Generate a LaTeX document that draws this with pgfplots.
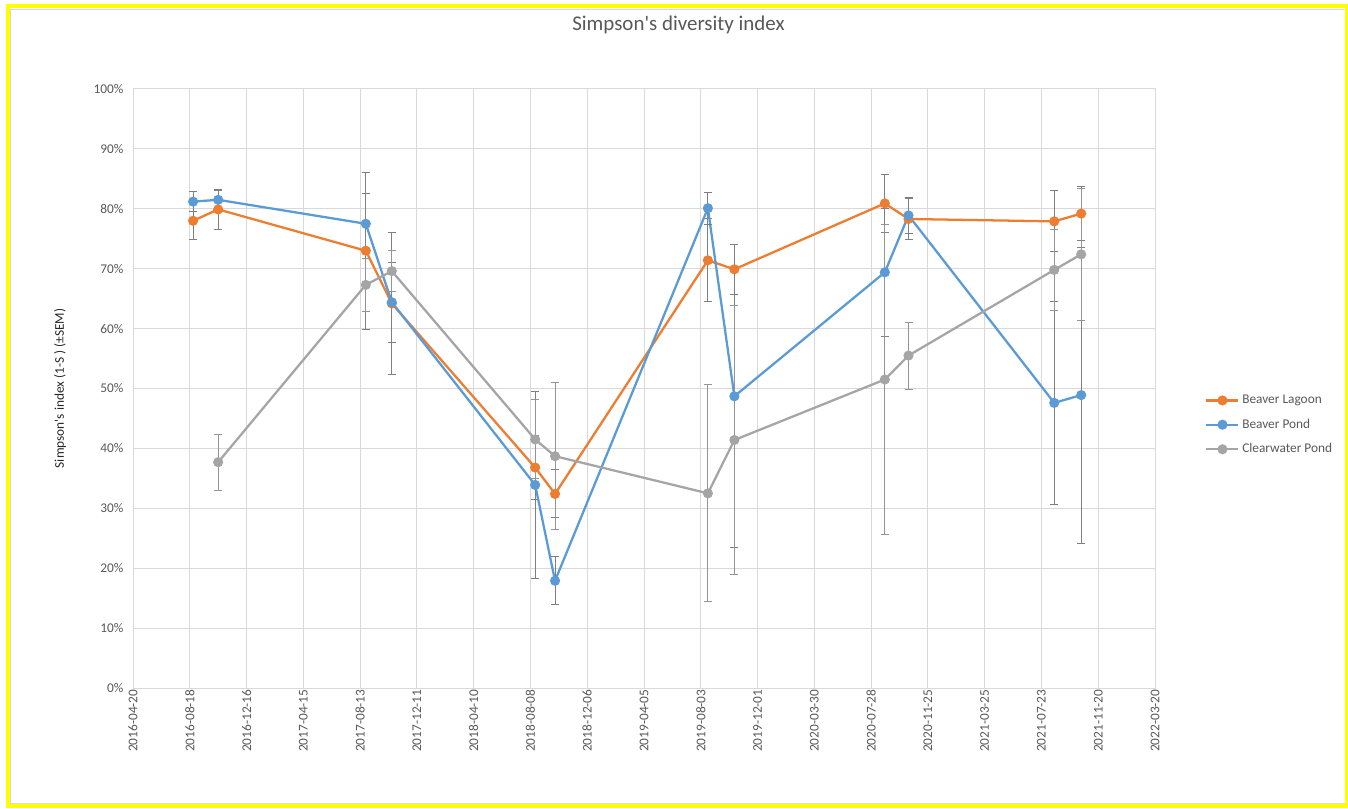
\documentclass[border=0pt]{standalone}
\usepackage{fontspec}
\setmainfont{Carlito}
\usepackage{pgfplots}
\pgfplotsset{compat=1.18}
\usepackage{pgfplotstable}
\definecolor{cOr}{HTML}{ED7D31}
\definecolor{cBl}{HTML}{5B9BD5}
\definecolor{cGy}{HTML}{A5A5A5}
\definecolor{cGrid}{HTML}{D9D9D9}
\definecolor{cTxt}{HTML}{595959}
\definecolor{cErr}{HTML}{7F7F7F}
\definecolor{cYel}{HTML}{FFFF00}

\pgfplotstableread{
x y e
127 78.0 3.2
180 79.9 3.3
492 73.0 13.1
547 64.2 11.8
850 36.8 5.4
892 32.4 4.0
1215 71.4 6.9
1271 69.9 4.2
1589 80.9 4.9
1639 78.3 3.5
1947 77.9 5.1
2004 79.2 4.5
}\lagoon

\pgfplotstableread{
x y e
127 81.2 1.7
180 81.5 1.6
492 77.5 5.0
547 64.4 6.7
850 33.9 15.6
892 17.9 4.0
1215 80.1 2.7
1271 48.7 25.3
1589 69.4 10.7
1639 78.9 3.0
1947 47.6 16.9
2004 48.9 24.7
}\pond

\pgfplotstableread{
x y e
180 37.7 4.7
492 67.3 4.4
547 69.6 3.4
850 41.5 6.6
892 38.7 12.3
1215 32.5 18.1
1271 41.4 22.5
1589 51.5 25.9
1639 55.5 5.6
1947 69.8 6.7
2004 72.4 11.0
}\clear

\begin{document}
\begin{tikzpicture}[x=1pt,y=1pt]
\useasboundingbox (0,0) rectangle (1011,606);
\fill[white] (0,0) rectangle (1011,606);
\begin{axis}[
  at={(99.75pt,90pt)}, anchor=south west,
  scale only axis, width=766.5pt, height=449.25pt,
  xmin=0, xmax=2160, ymin=0, ymax=100,
  xtick={0,120,...,2160},
  xticklabels={2016-04-20,2016-08-18,2016-12-16,2017-04-15,2017-08-13,2017-12-11,2018-04-10,2018-08-08,2018-12-06,2019-04-05,2019-08-03,2019-12-01,2020-03-30,2020-07-28,2020-11-25,2021-03-25,2021-07-23,2021-11-20,2022-03-20},
  ytick={0,10,...,100},
  yticklabels={0\%,10\%,20\%,30\%,40\%,50\%,60\%,70\%,80\%,90\%,100\%},
  /pgf/number format/assume math mode=true,
  grid=major,
  grid style={draw=cGrid, line width=0.75pt},
  axis line style={draw=cGrid, line width=0.75pt},
  tick style={draw=none},
  ticklabel style={font=\fontsize{10}{12}\selectfont, text=cTxt},
  xticklabel style={rotate=90, anchor=east, inner sep=1pt},
  yticklabel style={inner sep=1pt, xshift=-6pt},
  title={Simpson\textquotesingle s diversity index},
  title style={at={(axis description cs:0.5337,1.0935)}, anchor=center, font=\fontsize{15.7}{18}\selectfont, text=cTxt},
  ylabel={Simpson\textquotesingle s index (1-S ) (±SEM)},
  ylabel style={at={(axis description cs:-0.0714,0.5)}, rotate=0, anchor=center, font=\fontsize{10}{12}\selectfont, text=black!85},
  legend style={draw=none, fill=none, at={(axis description cs:1.049,0.439)}, anchor=west, font=\fontsize{10}{12}\selectfont, text=cTxt, row sep=6pt, inner sep=0pt, nodes={inner sep=2pt}},
  legend cell align=left,
  legend image code/.code={\draw[mark repeat=2,mark phase=2] plot coordinates {(0pt,0pt) (12pt,0pt) (24pt,0pt)};},
  every axis plot/.append style={line width=1.7pt, mark=*, mark size=2.9pt,
     error bars/y dir=both, error bars/y explicit,
     error bars/error bar style={line width=0.75pt, draw=cErr},
     error bars/error mark options={rotate=90, mark size=3pt, line width=0.75pt, draw=cErr}},
]
\addplot[color=cOr, mark options={fill=cOr, draw=cOr}] table[x=x, y=y, y error=e] {\lagoon};
\addlegendentry{Beaver Lagoon}
\addplot[color=cBl, mark options={fill=cBl, draw=cBl}] table[x=x, y=y, y error=e] {\pond};
\addlegendentry{Beaver Pond}
\addplot[color=cGy, mark options={fill=cGy, draw=cGy}, error bars/error bar style={line width=0.75pt, draw=cGy!90!black}, error bars/error mark options={rotate=90, mark size=3pt, line width=0.75pt, draw=cGy!90!black}] table[x=x, y=y, y error=e] {\clear};
\addlegendentry{Clearwater Pond}
\end{axis}
\draw[cGrid, line width=0.75pt] (8.1,599.2) rectangle (1008.8,3.1);
\draw[cYel, line width=3pt] (6,601.5) -- (1010.4,601.5) -- (1010.4,1.2) -- (6,1.2) -- cycle;
\end{tikzpicture}
\end{document}
